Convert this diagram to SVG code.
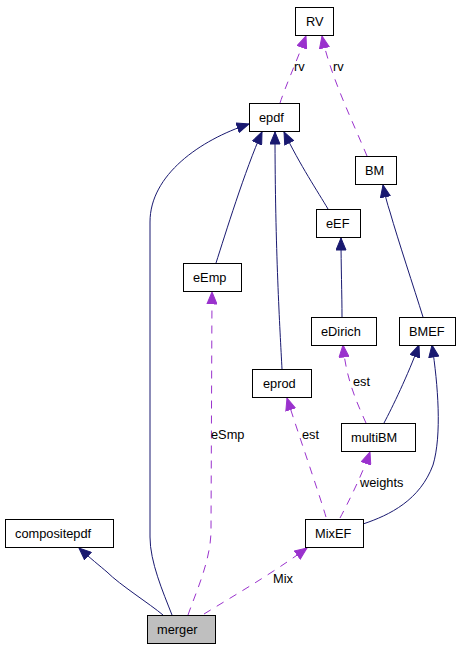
<svg xmlns="http://www.w3.org/2000/svg" width="460" height="648" viewBox="0 0 460 648">
<style>
.box{fill:#ffffff;stroke:#000000;stroke-width:1}
.sel{fill:#bfbfbf;stroke:#000000;stroke-width:1}
.t{font-family:"Liberation Sans",Arial,sans-serif;font-size:12.8px;fill:#000000}
.inh{fill:none;stroke:#191970;stroke-width:1;marker-end:url(#an)}
.use{fill:none;stroke:#9a32cd;stroke-width:1;stroke-dasharray:8,7;marker-end:url(#ap)}
</style>
<defs>
<marker id="an" markerUnits="userSpaceOnUse" markerWidth="13" markerHeight="11" refX="12" refY="5" orient="auto" viewBox="-0.5 -0.5 13 11">
<path d="M0,0 L12,5 L0,10 z" fill="#191970" stroke="#191970"/>
</marker>
<marker id="ap" markerUnits="userSpaceOnUse" markerWidth="13" markerHeight="11" refX="12" refY="5" orient="auto" viewBox="-0.5 -0.5 13 11">
<path d="M0,0 L12,5 L0,10 z" fill="#9a32cd" stroke="#9a32cd"/>
</marker>
</defs>
<rect width="460" height="648" fill="#ffffff"/>
<g id="connectors">
<path class="use" d="M280,103 C286,85 298,58 306,36"/>
<path class="use" d="M367,156 C352,120 330,75 322,36"/>
<path class="inh" d="M172,615 C163,592 150,562 150,537 L150,222 C150,175 200,140 249,124"/>
<path class="inh" d="M163,615 C150,604 120,585 107,572 C100,566 90,558 79,548"/>
<path class="use" d="M188,615 C196,592 211,560 211,530 L212,292"/>
<path class="inh" d="M216,263 C225,235 245,170 262,132"/>
<path class="inh" d="M282,369 C280,330 275,250 275,132"/>
<path class="inh" d="M328,209 C318,192 300,165 284,132"/>
<path class="inh" d="M342,317 C342,295 341,265 341,238"/>
<path class="inh" d="M423,317 C414,288 398,240 390,212 C387,203 385,195 383,185"/>
<path class="inh" d="M384,423 C392,408 408,375 419,345"/>
<path class="inh" d="M363,524 C390,515 420,500 433,465 C442,435 438,385 432,345"/>
<path class="use" d="M326,517 C318,490 298,433 287,398"/>
<path class="use" d="M340,518 C348,503 362,475 370,452"/>
<path class="use" d="M366,423 C358,405 346,380 343,345"/>
<path class="use" d="M204,614 C230,598 270,575 307,548"/>
<text class="t" x="294" y="71">rv</text>
<text class="t" x="333" y="71">rv</text>
<text class="t" x="211" y="439">eSmp</text>
<text class="t" x="302" y="439">est</text>
<text class="t" x="353" y="386">est</text>
<text class="t" x="360" y="487">weights</text>
<text class="t" x="273" y="583">Mix</text>
</g>
<g id="RV"><rect class="box" x="295.5" y="7.5" width="38" height="28"/><text class="t" x="306" y="26">RV</text></g>
<g id="epdf"><rect class="box" x="249.5" y="103.5" width="50" height="28"/><text class="t" x="259" y="122">epdf</text></g>
<g id="BM"><rect class="box" x="355.5" y="156.5" width="41" height="28"/><text class="t" x="365" y="175">BM</text></g>
<g id="eEF"><rect class="box" x="316.5" y="209.5" width="44" height="28"/><text class="t" x="326" y="228">eEF</text></g>
<g id="eEmp"><rect class="box" x="183.5" y="263.5" width="58" height="28"/><text class="t" x="193" y="282">eEmp</text></g>
<g id="eDirich"><rect class="box" x="311.5" y="317.5" width="65" height="28"/><text class="t" x="321" y="336">eDirich</text></g>
<g id="BMEF"><rect class="box" x="399.5" y="317.5" width="56" height="28"/><text class="t" x="409" y="336">BMEF</text></g>
<g id="eprod"><rect class="box" x="252.5" y="369.5" width="59" height="28"/><text class="t" x="263" y="388">eprod</text></g>
<g id="multiBM"><rect class="box" x="341.5" y="423.5" width="74" height="28"/><text class="t" x="351" y="442">multiBM</text></g>
<g id="MixEF"><rect class="box" x="305.5" y="519.5" width="58" height="28"/><text class="t" x="315" y="538">MixEF</text></g>
<g id="compositepdf"><rect class="box" x="5.5" y="519.5" width="108" height="28"/><text class="t" x="15" y="538">compositepdf</text></g>
<g id="merger"><rect class="sel" x="147.5" y="615.5" width="68" height="28"/><text class="t" x="157" y="634">merger</text></g>
</svg>
